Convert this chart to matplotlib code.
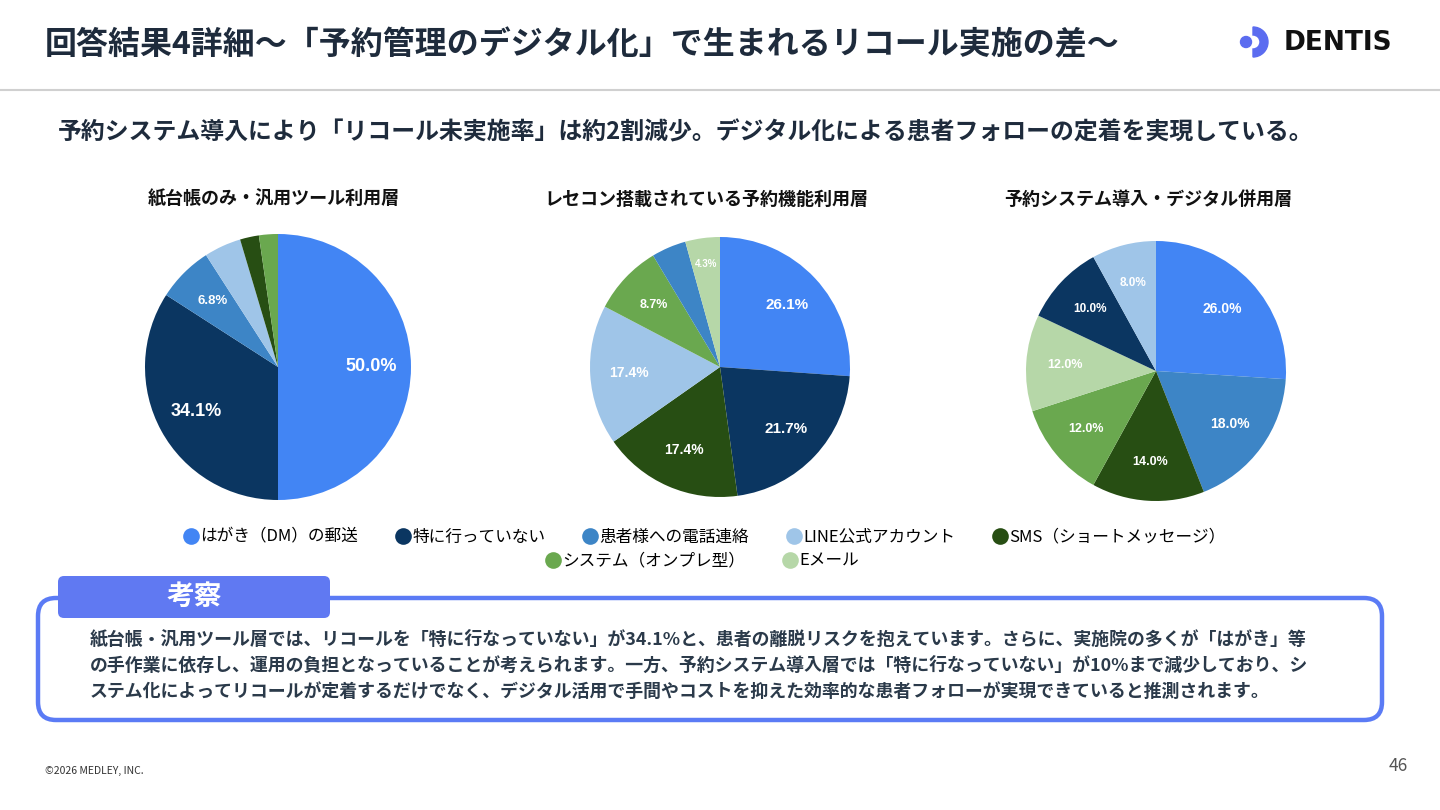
import matplotlib
matplotlib.use("Agg")
import matplotlib.pyplot as plt
from matplotlib.patches import FancyBboxPatch, Wedge, Circle
from matplotlib.lines import Line2D
import numpy as np

plt.rcParams['font.family'] = ['Noto Sans CJK JP', 'DejaVu Sans']

W, H = 1440, 810

# カテゴリと色
categories = ['はがき（DM）の郵送', '特に行っていない', '患者様への電話連絡', 'LINE公式アカウント',
              'SMS（ショートメッセージ）', 'システム（オンプレ型）', 'Eメール']
colors = {'はがき（DM）の郵送': '#4285F4', '特に行っていない': '#0B3661', '患者様への電話連絡': '#3D85C6',
          'LINE公式アカウント': '#9FC5E8', 'SMS（ショートメッセージ）': '#274E13',
          'システム（オンプレ型）': '#6AA84F', 'Eメール': '#B6D7A8'}

# 各層のデータ (時計回り、上から)
titles = ['紙台帳のみ・汎用ツール利用層', 'レセコン搭載されている予約機能利用層', '予約システム導入・デジタル併用層']

pie1_cats = ['はがき（DM）の郵送', '特に行っていない', '患者様への電話連絡', 'LINE公式アカウント',
             'SMS（ショートメッセージ）', 'システム（オンプレ型）']
pie1_vals = [50.0, 34.1, 6.8, 4.5, 2.3, 2.3]
pie1_fs = [13, 13, 9.5, 0, 0, 0]

pie2_cats = ['はがき（DM）の郵送', '特に行っていない', 'SMS（ショートメッセージ）', 'LINE公式アカウント',
             'システム（オンプレ型）', '患者様への電話連絡', 'Eメール']
pie2_vals = [26.1, 21.7, 17.4, 17.4, 8.7, 4.3, 4.3]
pie2_fs = [11, 11, 10, 10, 9, 0, 7]

pie3_cats = ['はがき（DM）の郵送', '患者様への電話連絡', 'SMS（ショートメッセージ）', 'システム（オンプレ型）',
             'Eメール', '特に行っていない', 'LINE公式アカウント']
pie3_vals = [26.0, 18.0, 14.0, 12.0, 12.0, 10.0, 8.0]
pie3_fs = [10, 10, 9, 9, 9, 8.5, 8.5]

body = ["紙台帳・汎用ツール層では、リコールを「特に行なっていない」が34.1%と、患者の離脱リスクを抱えています。さらに、実施院の多くが「はがき」等",
        "の手作業に依存し、運用の負担となっていることが考えられます。一方、予約システム導入層では「特に行なっていない」が10%まで減少しており、シ",
        "ステム化によってリコールが定着するだけでなく、デジタル活用で手間やコストを抑えた効率的な患者フォローが実現できていると推測されます。"]

fig = plt.figure(figsize=(W / 100, H / 100), dpi=100)
bg = fig.add_axes([0, 0, 1, 1])
bg.set_xlim(0, W)
bg.set_ylim(H, 0)
bg.axis('off')

dark = '#1E2B3C'
accent = '#5B7BF5'

# ヘッダー
bg.text(45, 45, '回答結果4詳細〜「予約管理のデジタル化」で生まれるリコール実施の差〜',
        fontsize=23, fontweight='bold', color=dark, va='center')
bg.plot([0, W], [90, 90], color='#D0D0D0', lw=1.5)
bg.add_patch(Wedge((1253, 42), 15, -90, 90, width=8, color='#5B6CF0'))
bg.add_patch(Circle((1246, 42), 5.5, color='#5B6CF0'))
bg.text(1284, 43, 'DENTIS', fontsize=19, fontweight='bold', family=['DejaVu Sans'],
        color='#111111', va='center')

bg.text(58, 132, '予約システム導入により「リコール未実施率」は約2割減少。デジタル化による患者フォローの定着を実現している。',
        fontsize=17.2, fontweight='bold', color=dark, va='center')

# 円グラフ
pies = [(278, 367, 133, pie1_cats, pie1_vals, pie1_fs, 274),
        (720, 367, 130, pie2_cats, pie2_vals, pie2_fs, 706),
        (1156, 371, 130, pie3_cats, pie3_vals, pie3_fs, 1148)]

for (cx, cy, r, cats, vals, fss, tx), title in zip(pies, titles):
    bg.text(tx, 199, title, fontsize=13, fontweight='bold', color='#111111', ha='center', va='center')
    ax = fig.add_axes([(cx - r) / W, 1 - (cy + r) / H, 2 * r / W, 2 * r / H])
    wedges, _ = ax.pie(vals, colors=[colors[c] for c in cats], startangle=90, counterclock=False,
                       radius=1, wedgeprops=dict(linewidth=0))
    for w, v, fs in zip(wedges, vals, fss):
        if fs == 0:
            continue
        ang = np.deg2rad((w.theta1 + w.theta2) / 2)
        d = 0.7 if v > 6 else 0.8
        ax.text(d * np.cos(ang), d * np.sin(ang), f'{v:.1f}%', color='white', fontsize=fs,
                fontweight='bold', ha='center', va='center', family=['Liberation Sans', 'DejaVu Sans'])
    ax.set_xlim(-1, 1)
    ax.set_ylim(-1, 1)
    ax.axis('off')

# 凡例
def handles(names):
    return [Line2D([], [], marker='o', linestyle='none', markersize=12, markeredgewidth=0,
                   color=colors[n], label=n) for n in names]

leg_kw = dict(frameon=False, handletextpad=0.05, columnspacing=2.2, handlelength=1.0,
              prop={'size': 12, 'family': ['Noto Sans CJK JP', 'DejaVu Sans']})
fig.legend(handles=handles(categories[:5]), ncol=5, loc='center', bbox_to_anchor=(704 / W, 1 - 537 / H), **leg_kw)
fig.legend(handles=handles(categories[5:]), ncol=2, loc='center', bbox_to_anchor=(702 / W, 1 - 561 / H), **leg_kw)

# 考察ボックス
bg.add_patch(FancyBboxPatch((38, 598), 1344, 122, boxstyle='round,pad=0,rounding_size=18',
                            fill=False, edgecolor=accent, lw=3.2))
bg.add_patch(FancyBboxPatch((58, 576), 272, 42, boxstyle='round,pad=0,rounding_size=6',
                            facecolor='#6079F2', edgecolor='none'))
bg.text(194, 597, '考察', fontsize=20, fontweight='bold', color='white', ha='center', va='center')
for i, line in enumerate(body):
    bg.text(90, 640 + i * 26, line, fontsize=12.9, fontweight='bold', color='#2B3A4A', va='center')

# フッター
bg.text(45, 771, '©2026 MEDLEY, INC.', fontsize=7.5, color='#333333', va='center')
bg.text(1408, 766, '46', fontsize=12.5, color='#555555', ha='right', va='center')

fig.savefig('out.png', dpi=100)
